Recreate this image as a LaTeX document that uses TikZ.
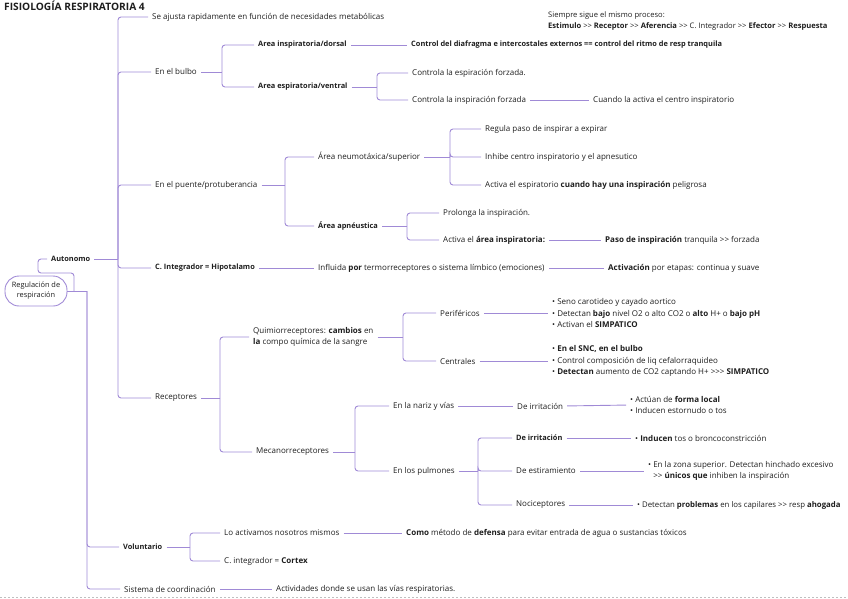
\documentclass[tikz,border=0pt]{standalone}
\usepackage{fontspec}
\setmainfont{Open Sans}
\definecolor{ln}{HTML}{A08AD6}
\definecolor{tx}{HTML}{1E1E1E}
\tikzset{
  t/.style={anchor=west, inner sep=0pt, text=tx, font=\fontsize{8}{11.5}\selectfont},
  tb/.style={t, font=\fontsize{7.4}{11.5}\selectfont\bfseries},
  conn/.style={draw=ln, line width=0.9pt, rounded corners=3pt},
  gapl/.style={shorten <=4pt},
  gapr/.style={shorten >=4pt},
  rootbox/.style={draw=ln, line width=0.9pt, rounded corners=14pt, minimum width=62pt, minimum height=30pt, inner sep=1pt, align=center, text=tx, font=\fontsize{7.4}{10}\selectfont},
}
\begin{document}
\begin{tikzpicture}[x=1pt,y=-1pt]
\useasboundingbox (0,0) rectangle (848,599);
% frame hints
\draw[black!25, dash pattern=on 2pt off 2pt] (0,597) -- (848,597);
% title
\node[tb, font=\fontsize{10.2}{12}\selectfont\bfseries] (title) at (4,6) {FISIOLOGÍA RESPIRATORIA 4};
% texts
\node[t] (se) at (152,17) {Se ajusta rapidamente en función de necesidades metabólicas};
\node[t, align=left, font=\fontsize{7.6}{11}\selectfont] (proc) at (548,21.5) {Siempre sigue el mismo proceso:\\ \textbf{Estimulo} >{}> \textbf{Receptor} >{}> \textbf{Aferencia} >{}> C. Integrador >{}> \textbf{Efector} >{}> \textbf{Respuesta}};
\node[tb] (ains) at (258,45) {Area inspiratoria/dorsal};
\node[tb] (ctrl) at (411,45) {Control del diafragma e intercostales externos == control del ritmo de resp tranquila};
\node[t] (bulbo) at (155,72) {En el bulbo};
\node[tb] (aesp) at (258,87) {Area espiratoria/ventral};
\node[t] (cesp) at (412,73) {Controla la espiración forzada.};
\node[t] (cinsp) at (412,100) {Controla la inspiración forzada};
\node[t] (cuando) at (593,100) {Cuando la activa el centro inspiratorio};
\node[t] (regula) at (485,129) {Regula paso de inspirar a expirar};
\node[t] (neumo) at (318,157) {Área neumotáxica/superior};
\node[t] (inhibe) at (485,157) {Inhibe centro inspiratorio y el apnesutico};
\node[t] (puente) at (155,185) {En el puente/protuberancia};
\node[t] (activa) at (485,185) {Activa el espiratorio \textbf{cuando hay una inspiración} peligrosa};
\node[t] (prolonga) at (443,213) {Prolonga la inspiración.};
\node[tb] (apneu) at (318,226) {Área apnéustica};
\node[t] (actarea) at (443,240) {Activa el \textbf{área inspiratoria:}};
\node[t] (paso) at (605,240) {\textbf{Paso de inspiración} tranquila >{}> forzada};
\node[tb] (auto) at (51,259) {Autonomo};
\node[tb] (cint) at (155,268) {C. Integrador = Hipotalamo};
\node[t] (influ) at (318,268) {Influida \textbf{por} termorreceptores o sistema límbico (emociones)};
\node[t] (activ) at (608,268) {\textbf{Activación} por etapas: continua y suave};
\node[rootbox] (root) at (36,291) {Regulación de\\respiración};
\node[t, align=left] (quimio) at (253,337) {Quimiorreceptores: \textbf{cambios} en\\\textbf{la} compo química de la sangre};
\node[t] (perif) at (440,313) {Periféricos};
\node[t, align=left] (plist) at (552,313) {• Seno carotideo y cayado aortico\\• Detectan \textbf{bajo} nivel O2 o alto CO2 o \textbf{alto} H+ o \textbf{bajo pH}\\• Activan el \textbf{SIMPATICO}};
\node[t] (centr) at (440,361) {Centrales};
\node[t, align=left] (clist) at (552,361) {• \textbf{En el SNC, en el bulbo}\\• Control composición de liq cefalorraquideo\\• \textbf{Detectan} aumento de CO2 captando H+ >{}>{}> \textbf{SIMPATICO}};
\node[t] (recep) at (155,398) {Receptores};
\node[t] (nariz) at (393,406) {En la nariz y vías};
\node[t] (dirr1) at (517,406) {De irritación};
\node[t, align=left, font=\fontsize{8}{11}\selectfont] (nlist) at (630,405) {• Actúan de \textbf{forma local}\\• Inducen estornudo o tos};
\node[tb] (dirr2) at (516,438) {De irritación};
\node[t] (ilist) at (635,438) {• \textbf{Inducen} tos o broncoconstricción};
\node[t] (meca) at (256,452) {Mecanorreceptores};
\node[t] (pulm) at (393,471) {En los pulmones};
\node[t] (destir) at (516,471) {De estiramiento};
\node[t, align=left, font=\fontsize{8}{11}\selectfont] (elist) at (648,471) {• En la zona superior. Detectan hinchado excesivo\\\phantom{• }>{}> \textbf{únicos que} inhiben la inspiración};
\node[t] (noci) at (516,505) {Nociceptores};
\node[t, font=\fontsize{7.8}{11}\selectfont] (nolist) at (637,505) {• Detectan \textbf{problemas} en los capilares >{}> resp \textbf{ahogada}};
\node[t] (loact) at (224,533) {Lo activamos nosotros mismos};
\node[t] (como) at (406,533) {\textbf{Como} método de \textbf{defensa} para evitar entrada de agua o sustancias tóxicos};
\node[tb] (vol) at (123,547) {Voluntario};
\node[t] (cortex) at (224,561) {C. integrador = \textbf{Cortex}};
\node[t] (sis) at (124,589) {Sistema de coordinación};
\node[t] (activid) at (276,589) {Actividades donde se usan las vías respiratorias.};
% junctions
\coordinate (rj) at (87,291);
\coordinate (k1) at (74,291);
\coordinate (k2) at (74,273);
\coordinate (k3) at (38,273);
\coordinate (ja) at (118,259);
\coordinate (jb) at (222,72);
\coordinate (jc) at (377,87);
\coordinate (jd) at (285,185);
\coordinate (je) at (450,157);
\coordinate (jf) at (407,226);
\coordinate (jg) at (220,398);
\coordinate (jh) at (403,337);
\coordinate (ji) at (355,452);
\coordinate (jj) at (478,471);
\coordinate (jk) at (190,547);
% root
\draw[conn] (root.east) -- (rj);
\draw[conn, gapr] (k1) -- (k2) -- (k3) |- (auto.west);
\draw[conn, gapr] (rj) |- (vol.west);
\draw[conn, gapr] (rj) |- (sis.west);
% autonomo
\draw[conn, gapl] (auto.east) -- (ja);
\foreach \n in {se,bulbo,puente,cint,recep} \draw[conn, gapr] (ja) |- (\n.west);
% bulbo
\draw[conn, gapl] (bulbo.east) -- (jb);
\foreach \n in {ains,aesp} \draw[conn, gapr] (jb) |- (\n.west);
\draw[conn, gapl, gapr] (ains.east) -- (ctrl.west);
\draw[conn, gapl] (aesp.east) -- (jc);
\foreach \n in {cesp,cinsp} \draw[conn, gapr] (jc) |- (\n.west);
\draw[conn, gapl, gapr] (cinsp.east) -- (cuando.west);
% puente
\draw[conn, gapl] (puente.east) -- (jd);
\foreach \n in {neumo,apneu} \draw[conn, gapr] (jd) |- (\n.west);
\draw[conn, gapl] (neumo.east) -- (je);
\foreach \n in {regula,inhibe,activa} \draw[conn, gapr] (je) |- (\n.west);
\draw[conn, gapl] (apneu.east) -- (jf);
\foreach \n in {prolonga,actarea} \draw[conn, gapr] (jf) |- (\n.west);
\draw[conn, gapl, gapr] (actarea.east) -- (paso.west);
% integrador
\draw[conn, gapl, gapr] (cint.east) -- (influ.west);
\draw[conn, gapl, gapr] (influ.east) -- (activ.west);
% receptores
\draw[conn, gapl] (recep.east) -- (jg);
\foreach \n in {quimio,meca} \draw[conn, gapr] (jg) |- (\n.west);
\draw[conn, gapl] (quimio.east) -- (jh);
\foreach \n in {perif,centr} \draw[conn, gapr] (jh) |- (\n.west);
\draw[conn, gapl, gapr] (perif.east) -- (plist.west);
\draw[conn, gapl, gapr] (centr.east) -- (clist.west);
\draw[conn, gapl] (meca.east) -- (ji);
\foreach \n in {nariz,pulm} \draw[conn, gapr] (ji) |- (\n.west);
\draw[conn, gapl, gapr] (nariz.east) -- (dirr1.west);
\draw[conn, gapl, gapr] (dirr1.east) -- (nlist.west);
\draw[conn, gapl] (pulm.east) -- (jj);
\foreach \n in {dirr2,destir,noci} \draw[conn, gapr] (jj) |- (\n.west);
\draw[conn, gapl, gapr] (dirr2.east) -- (ilist.west);
\draw[conn, gapl, gapr] (destir.east) -- (elist.west);
\draw[conn, gapl, gapr] (noci.east) -- (nolist.west);
% voluntario
\draw[conn, gapl] (vol.east) -- (jk);
\foreach \n in {loact,cortex} \draw[conn, gapr] (jk) |- (\n.west);
\draw[conn, gapl, gapr] (loact.east) -- (como.west);
\draw[conn, gapl, gapr] (sis.east) -- (activid.west);
\end{tikzpicture}
\end{document}
